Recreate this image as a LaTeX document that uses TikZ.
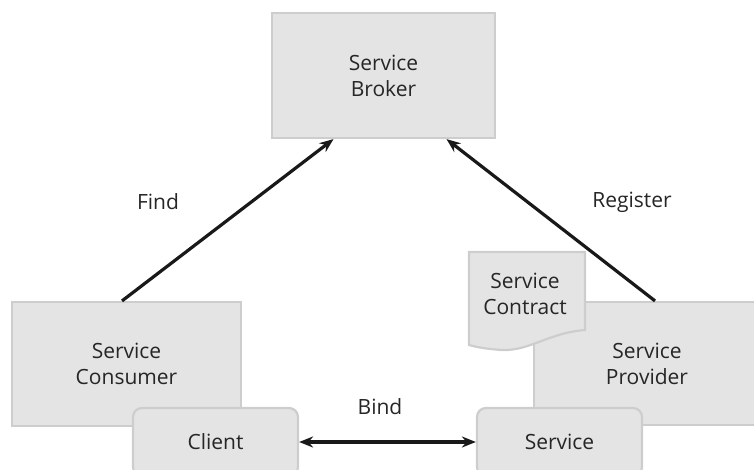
\documentclass[tikz,border=0pt]{standalone}
\usepackage{fontspec}
\setmainfont{Open Sans}
\usetikzlibrary{arrows.meta}
\definecolor{boxfill}{HTML}{E4E4E4}
\definecolor{boxline}{HTML}{CDCDCD}
\definecolor{txt}{HTML}{262626}
\tikzset{
  box/.style={draw=boxline, fill=boxfill, line width=2.2pt, rectangle, align=center,
    text=txt, font=\fontsize{21}{26}\selectfont, inner sep=0pt},
  rbox/.style={box, rounded corners=9pt},
  lbl/.style={text=txt, font=\fontsize{21}{26}\selectfont, inner sep=0pt},
  conn/.style={line width=3.2pt, draw=black!90, -{Stealth[length=14pt,width=11pt]}},
  bconn/.style={line width=3.2pt, draw=black!90, {Stealth[length=14pt,width=11pt]}-{Stealth[length=14pt,width=11pt]}}
}
\begin{document}
\begin{tikzpicture}[x=1pt,y=-1pt]
\useasboundingbox (0,0) rectangle (754,470);
\clip (0,0) rectangle (754,470);
\node[box, minimum width=223pt, minimum height=125pt] (broker) at (383.5,75.5) {Service\\Broker};
\node[box, minimum width=226pt, minimum height=123pt] (provider) at (647,363.5) {Service\\Provider};
\draw[draw=boxline, fill=boxfill, line width=2.2pt] (469,252) -- (585,252) -- (585,330)
  .. controls (548,333) and (530,351) .. (502,350)
  .. controls (486,349) and (476,347) .. (469,345) -- cycle;
\node[lbl, align=center] (contract) at (525,294) {Service\\Contract};
\node[box, minimum width=229pt, minimum height=124pt] (consumer) at (126.5,364) {Service\\Consumer};
\node[rbox, minimum width=165pt, minimum height=68pt] (client) at (215.5,442) {Client};
\node[rbox, minimum width=165pt, minimum height=68pt] (service) at (559.5,442) {Service};
\draw[conn] ([xshift=-4.5pt]consumer.north) -- ([xshift=-50pt]broker.south);
\draw[conn] ([xshift=8pt]provider.north) -- ([xshift=63pt]broker.south);
\draw[bconn] (client.east) -- (service.west);
\node[lbl] (find) at (158,202) {Find};
\node[lbl] (register) at (632,202) {Register};
\node[lbl] (bind) at (380,407) {Bind};
\end{tikzpicture}
\end{document}
